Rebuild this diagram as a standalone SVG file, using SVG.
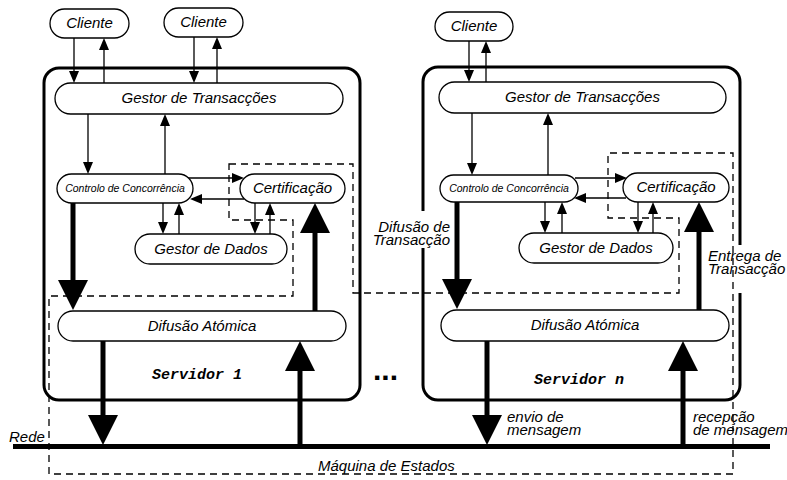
<svg xmlns="http://www.w3.org/2000/svg" width="787" height="480" viewBox="0 0 787 480">
<style>
.srv{fill:none;stroke:#000;stroke-width:3}
.node rect{fill:#fff;stroke:#000;stroke-width:1.3}
.t{font-family:"Liberation Sans",Arial,sans-serif;font-style:italic;font-size:15px;fill:#000}
.c{text-anchor:middle}
.small{font-size:10.5px}
.mono{font-family:"Liberation Mono","Courier New",monospace;font-weight:bold;font-style:italic;font-size:15px;text-anchor:middle}
.thin{stroke:#000;stroke-width:1.3;fill:none;marker-end:url(#ah)}
.thick{stroke:#000;stroke-width:5;fill:none;marker-end:url(#AH)}
.dash{fill:none;stroke:#000;stroke-width:1.3;stroke-dasharray:7,5}
.bg{fill:#fff;stroke:none}
</style>
<defs>
<marker id="ah" markerUnits="userSpaceOnUse" markerWidth="12" markerHeight="10" viewBox="0 0 12 10" refX="1" refY="5" orient="auto"><path d="M0,0 L12,5 L0,10 z" fill="#000"/></marker>
<marker id="AH" markerUnits="userSpaceOnUse" markerWidth="30" markerHeight="30" viewBox="0 0 30 30" refX="1" refY="15" orient="auto"><path d="M0,0 L30,15 L0,30 z" fill="#000"/></marker>
</defs>
<rect width="787" height="480" fill="#fff"/>

<g id="servidor1">
<rect class="srv" x="44" y="68" width="316" height="332" rx="15"/>
<text class="mono" x="197" y="379">Servidor 1</text>
</g>
<g id="servidorn">
<rect class="srv" x="423" y="67" width="317" height="333" rx="15"/>
<text class="mono" x="579" y="384">Servidor n</text>
</g>

<g id="label-bgs">
<rect class="bg" x="366" y="211" width="86" height="37"/>
<rect class="bg" x="704" y="245" width="83" height="48"/>
</g>

<g id="maquina-estados">
<path class="dash" d="M229,164 L353,164 L353,293 L679,293 L679,218 L608,218 L608,153 L733,153 L733,474 L49,474 L49,296 L293,296 L293,220 L229,220 Z"/>
<text class="t" x="318" y="471">Máquina de Estados</text>
</g>

<g id="connectors">
<!-- server 1 thin -->
<line class="thin" x1="74" y1="38" x2="74" y2="72"/>
<line class="thin" x1="104" y1="83" x2="104" y2="49"/>
<line class="thin" x1="194" y1="37" x2="194" y2="72"/>
<line class="thin" x1="217" y1="83" x2="217" y2="48"/>
<line class="thin" x1="88" y1="114" x2="88" y2="163"/>
<line class="thin" x1="165" y1="174" x2="165" y2="125"/>
<line class="thin" x1="188" y1="178" x2="233" y2="178"/>
<line class="thin" x1="244" y1="199" x2="201" y2="199"/>
<line class="thin" x1="163" y1="203" x2="163" y2="223"/>
<line class="thin" x1="179" y1="234" x2="179" y2="214"/>
<line class="thin" x1="255" y1="203" x2="255" y2="223"/>
<line class="thin" x1="270" y1="234" x2="270" y2="214"/>
<!-- server 1 thick -->
<line class="thick" x1="73" y1="203" x2="73" y2="281"/>
<line class="thick" x1="315" y1="311" x2="315" y2="232"/>
<line class="thick" x1="103" y1="341" x2="103" y2="416"/>
<line class="thick" x1="300" y1="446" x2="300" y2="370"/>
<!-- server n thin -->
<line class="thin" x1="469" y1="41" x2="469" y2="71"/>
<line class="thin" x1="486" y1="82" x2="486" y2="52"/>
<line class="thin" x1="472" y1="113" x2="472" y2="164"/>
<line class="thin" x1="548" y1="175" x2="548" y2="124"/>
<line class="thin" x1="575" y1="178" x2="616" y2="178"/>
<line class="thin" x1="626" y1="198" x2="585" y2="198"/>
<line class="thin" x1="545" y1="202" x2="545" y2="222"/>
<line class="thin" x1="562" y1="233" x2="562" y2="213"/>
<line class="thin" x1="638" y1="202" x2="638" y2="222"/>
<line class="thin" x1="653" y1="233" x2="653" y2="213"/>
<!-- server n thick -->
<line class="thick" x1="457" y1="202" x2="457" y2="280"/>
<line class="thick" x1="699" y1="310" x2="699" y2="231"/>
<line class="thick" x1="487" y1="341" x2="487" y2="416"/>
<line class="thick" x1="683" y1="446" x2="683" y2="370"/>
</g>

<g id="rede">
<line x1="13" y1="446.5" x2="770" y2="446.5" stroke="#000" stroke-width="5"/>
<text class="t" x="9" y="442">Rede</text>
</g>

<g id="cliente1a" class="node"><rect x="50" y="9" width="79" height="29" rx="14.5"/><text class="t c" x="89.5" y="28">Cliente</text></g>
<g id="cliente1b" class="node"><rect x="164" y="8" width="79" height="29" rx="14.5"/><text class="t c" x="203.5" y="27">Cliente</text></g>
<g id="gestor-transaccoes-1" class="node"><rect x="55" y="83" width="288" height="31" rx="15.5"/><text class="t c" x="199" y="103">Gestor de Transacções</text></g>
<g id="controlo-1" class="node"><rect x="57" y="174" width="136" height="29" rx="14.5"/><text class="t c small" x="125" y="192">Controlo de Concorrência</text></g>
<g id="certificacao-1" class="node"><rect x="240" y="174" width="105" height="29" rx="14.5"/><text class="t c" x="292.5" y="193">Certificação</text></g>
<g id="gestor-dados-1" class="node"><rect x="135" y="234" width="152" height="30" rx="15"/><text class="t c" x="211" y="254">Gestor de Dados</text></g>
<g id="difusao-1" class="node"><rect x="58" y="311" width="288" height="30" rx="15"/><text class="t c" x="202" y="331">Difusão Atómica</text></g>

<g id="clienten" class="node"><rect x="435" y="12" width="78" height="29" rx="14.5"/><text class="t c" x="474" y="31">Cliente</text></g>
<g id="gestor-transaccoes-n" class="node"><rect x="439" y="82" width="287" height="31" rx="15.5"/><text class="t c" x="582.5" y="102">Gestor de Transacções</text></g>
<g id="controlo-n" class="node"><rect x="440" y="175" width="138" height="27" rx="13.5"/><text class="t c small" x="509" y="192">Controlo de Concorrência</text></g>
<g id="certificacao-n" class="node"><rect x="623" y="173" width="106" height="29" rx="14.5"/><text class="t c" x="676" y="192">Certificação</text></g>
<g id="gestor-dados-n" class="node"><rect x="519" y="233" width="154" height="30" rx="15"/><text class="t c" x="596" y="253">Gestor de Dados</text></g>
<g id="difusao-n" class="node"><rect x="441" y="310" width="288" height="31" rx="15.5"/><text class="t c" x="585" y="330">Difusão Atómica</text></g>

<g id="labels">
<text class="t" x="450" y="232" text-anchor="end">Difusão de</text>
<text class="t" x="450" y="245" text-anchor="end">Transacção</text>
<text class="t" x="708" y="261">Entrega de</text>
<text class="t" x="708" y="274">Transacção</text>
<text class="t" x="507" y="422">envio de</text>
<text class="t" x="507" y="435">mensagem</text>
<text class="t" x="693" y="422">recepção</text>
<text class="t" x="693" y="435">de mensagem</text>
<text x="373" y="380" font-family="Liberation Sans,Arial,sans-serif" font-weight="bold" font-size="30">...</text>
</g>
</svg>
